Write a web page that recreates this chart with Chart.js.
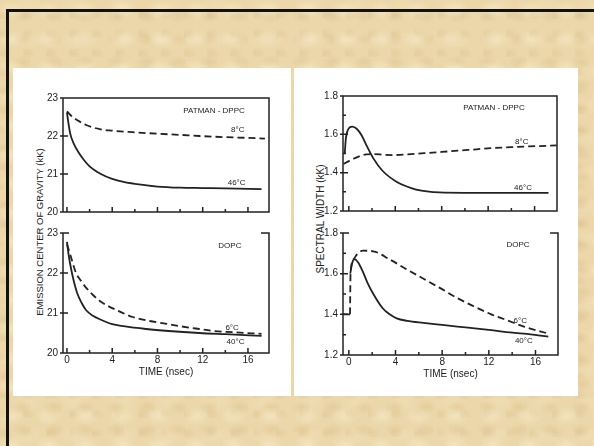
<!DOCTYPE html>
<html>
<head>
<meta charset="utf-8">
<script src="https://cdn.jsdelivr.net/npm/chart.js@4.4.1/dist/chart.umd.min.js"></script>
<style>
html, body { margin: 0; padding: 0; }
body {
  width: 594px; height: 446px; overflow: hidden; position: relative;
  background-color: #ebd7aa;
  background-image:
    radial-gradient(ellipse 14px 9px at 30% 35%, rgba(250,238,208,.5), rgba(250,238,208,0)),
    radial-gradient(ellipse 11px 7px at 75% 70%, rgba(214,180,124,.3), rgba(214,180,124,0)),
    radial-gradient(ellipse 18px 10px at 60% 20%, rgba(245,228,190,.4), rgba(245,228,190,0)),
    radial-gradient(ellipse 9px 6px at 15% 80%, rgba(210,176,120,.25), rgba(210,176,120,0));
  background-size: 37px 29px, 31px 23px, 47px 33px, 23px 19px;
}
.border { position: absolute; left: 6px; top: 9px; width: 600px; height: 450px; border-top: 3px solid #111; border-left: 3px solid #111; }
.panel { position: absolute; background: #fff; }
canvas { position: absolute; }
.ytitle {
  position: absolute; color: #222; white-space: nowrap;
  font-family: "Liberation Sans", Arial, sans-serif;
  transform: translate(-50%, -50%) rotate(-90deg);
}
</style>
</head>
<body>
<div class="border"></div>
<div class="panel" style="left:13px;top:68px;width:278px;height:328px"></div>
<div class="panel" style="left:294px;top:68px;width:284px;height:328px"></div>
<div class="ytitle" style="left:39px;top:232px;font-size:9.5px">EMISSION CENTER OF GRAVITY (kK)</div>
<div class="ytitle" style="left:320px;top:219px;font-size:10px">SPECTRAL WIDTH (kK)</div>
<script>
// PATMAN - DPPC, emission center of gravity (kK)
const dppcCogTime8 = [0, 0.5, 1, 1.7, 2.9, 4, 5.8, 8, 10, 11.7, 14, 16, 17.5];
const dppcCog8 = [22.65, 22.5, 22.4, 22.29, 22.18, 22.14, 22.1, 22.06, 22.03, 22.0, 21.97, 21.95, 21.93];
const dppcCogTime46 = [0, 0.15, 0.3, 0.6, 1, 1.5, 2, 3, 4, 5, 6, 8, 10, 12, 14, 17.2];
const dppcCog46 = [22.62, 22.3, 22.05, 21.8, 21.58, 21.37, 21.2, 21.0, 20.87, 20.79, 20.74, 20.67, 20.64, 20.63, 20.62, 20.6];

// DOPC, emission center of gravity (kK)
const dopcCogTime6 = [0, 0.3, 0.8, 1.2, 1.7, 2.3, 2.9, 3.6, 4.4, 5.8, 7.3, 8.8, 10, 11.7, 13, 14.6, 17.2];
const dopcCog6 = [22.72, 22.45, 22.0, 21.82, 21.63, 21.45, 21.3, 21.18, 21.07, 20.9, 20.8, 20.73, 20.67, 20.6, 20.55, 20.52, 20.48];
const dopcCogTime40 = [0, 0.15, 0.3, 0.6, 0.9, 1.3, 1.7, 2.3, 3, 4, 5, 7, 9, 11.7, 14, 17.2];
const dopcCog40 = [22.78, 22.45, 22.2, 21.8, 21.5, 21.25, 21.07, 20.93, 20.83, 20.72, 20.67, 20.6, 20.55, 20.5, 20.47, 20.43];

// PATMAN - DPPC, spectral width (kK)
const dppcWidTime8 = [-0.45, 0, 0.5, 1, 1.5, 2.2, 3, 4, 5, 6.5, 8, 9.4, 11, 12.2, 14, 15.5, 17.9];
const dppcWid8 = [1.445, 1.46, 1.475, 1.488, 1.495, 1.497, 1.493, 1.492, 1.495, 1.502, 1.508, 1.515, 1.522, 1.528, 1.533, 1.537, 1.542];
const dppcWidTime46 = [-0.35, -0.25, -0.1, 0.3, 0.7, 1.1, 1.5, 2.1, 2.9, 4.1, 5, 5.8, 7.8, 10, 17.2];
const dppcWid46 = [1.5, 1.58, 1.62, 1.64, 1.628, 1.595, 1.545, 1.476, 1.41, 1.353, 1.328, 1.312, 1.297, 1.295, 1.295];

// DOPC, spectral width (kK); null breaks the 40°C line where it jumps
const dopcWidTime6 = [0.1, 0.15, 0.4, 0.7, 1.2, 2.1, 3.5, 5, 6.4, 7.8, 9.3, 10.7, 12.2, 13.6, 15, 17.1];
const dopcWid6 = [1.4, 1.6, 1.67, 1.695, 1.713, 1.71, 1.67, 1.62, 1.575, 1.53, 1.48, 1.44, 1.4, 1.37, 1.34, 1.305];
const dopcWidTime40 = [-0.5, 0.1, 0.1, 0.12, 0.3, 0.5, 0.8, 1.2, 1.6, 2.1, 2.9, 3.5, 4.1, 5, 6.4, 8, 9.3, 11, 12.2, 13.5, 15, 17.1];
const dopcWid40 = [1.4, 1.4, null, 1.6, 1.655, 1.672, 1.655, 1.61, 1.555, 1.5, 1.43, 1.4, 1.38, 1.368, 1.358, 1.348, 1.34, 1.33, 1.322, 1.313, 1.305, 1.29];

const cogTicks = [20, 21, 22, 23];
const widTicks = ['1.2', '1.4', '1.6', '1.8'];
const timeTicks = [0, 4, 8, 12, 16];

const INK = '#222';
const FONT = "'Liberation Sans', Arial, sans-serif";

const framePlugin = {
  id: 'frame',
  afterDraw(chart, args, o) {
    const { ctx, chartArea: a, scales: { x, y } } = chart;
    ctx.save();
    ctx.strokeStyle = INK;
    ctx.lineWidth = 1.5;
    ctx.setLineDash([]);
    ctx.beginPath();
    ctx.moveTo(a.left, a.top);
    ctx.lineTo(a.left, a.bottom);
    ctx.lineTo(a.right, a.bottom);
    ctx.lineTo(a.right, a.top);
    if (o.openTop) {
      ctx.lineTo(a.right - 8, a.top);
      ctx.moveTo(a.left, a.top);
      ctx.lineTo(a.left + 6, a.top);
    } else {
      ctx.lineTo(a.left, a.top);
    }
    // inward tick marks
    x.ticks.forEach(t => {
      const px = x.getPixelForValue(t.value);
      const len = timeTicks.includes(Math.round(t.value)) ? 5 : 3;
      ctx.moveTo(px, a.bottom);
      ctx.lineTo(px, a.bottom - len);
    });
    y.ticks.forEach(t => {
      const py = y.getPixelForValue(t.value);
      const major = t.label !== '';
      ctx.moveTo(a.left - (major ? 3 : 0), py);
      ctx.lineTo(a.left + (major ? 5 : 3), py);
    });
    ctx.stroke();
    // curve labels
    ctx.fillStyle = INK;
    ctx.textAlign = 'center';
    ctx.textBaseline = 'middle';
    (o.notes || []).forEach(n => {
      ctx.font = (n.size || 8) + 'px ' + FONT;
      ctx.fillText(n.text, x.getPixelForValue(n.t), y.getPixelForValue(n.v));
    });
    ctx.restore();
  }
};

function series(time, values, dashed) {
  return {
    data: time.map((t, i) => ({ x: t, y: values[i] })),
    borderColor: INK,
    borderWidth: 1.8,
    borderDash: dashed ? [7, 4] : [],
    pointRadius: 0,
    fill: false,
    cubicInterpolationMode: 'monotone'
  };
}

function makePlot(box, cfg) {
  const timeAxis = !!cfg.timeAxis;
  const YW = 44, PT = 8, PR = 10, XH = timeAxis ? 25 : 6;
  const c = document.createElement('canvas');
  c.width = box.r - box.l + YW + PR;
  c.height = box.b - box.t + PT + XH;
  c.style.left = (box.l - YW) + 'px';
  c.style.top = (box.t - PT) + 'px';
  document.body.appendChild(c);
  new Chart(c, {
    type: 'line',
    data: { datasets: cfg.datasets },
    options: {
      responsive: false,
      animation: false,
      layout: { padding: { top: PT, right: PR, left: 0, bottom: 0 } },
      plugins: {
        legend: { display: false },
        tooltip: { enabled: false },
        frame: { openTop: !!cfg.openTop, notes: cfg.notes }
      },
      scales: {
        x: {
          type: 'linear',
          min: cfg.xMin, max: cfg.xMax,
          grid: { display: false, drawTicks: false },
          border: { display: false },
          ticks: {
            stepSize: 2, includeBounds: false, autoSkip: false, maxRotation: 0,
            display: timeAxis, padding: 1, color: INK,
            font: { family: FONT, size: 10 },
            callback: v => timeTicks.includes(v) ? String(v) : ''
          },
          title: {
            display: timeAxis, text: 'TIME (nsec)', color: INK,
            font: { family: FONT, size: 10 }, padding: { top: 1, bottom: 0 }
          },
          afterFit: s => { s.height = XH; }
        },
        y: {
          min: cfg.yMin, max: cfg.yMax,
          grid: { display: false, drawTicks: false },
          border: { display: false },
          ticks: {
            stepSize: cfg.yStep, includeBounds: false, autoSkip: false,
            padding: 5, color: INK,
            font: { family: FONT, size: 10 },
            callback: cfg.yLabel
          },
          afterFit: s => { s.width = YW; }
        }
      }
    },
    plugins: [framePlugin]
  });
}

const cogLabel = v => cogTicks.includes(Math.round(v * 10) / 10) ? String(Math.round(v)) : '';
const widLabel = v => widTicks.includes(v.toFixed(1)) && Math.round(v * 10) % 2 === 0 ? v.toFixed(1) : '';

makePlot({ l: 63, t: 95, r: 269, b: 217 }, {
  xMin: -0.35, xMax: 17.86, yMin: 20, yMax: 23, yStep: 1, yLabel: cogLabel,
  datasets: [series(dppcCogTime8, dppcCog8, true), series(dppcCogTime46, dppcCog46, false)],
  notes: [
    { t: 13.0, v: 22.66, text: 'PATMAN - DPPC' },
    { t: 15.1, v: 22.17, text: '8°C' },
    { t: 15.0, v: 20.76, text: '46°C' }
  ]
});

makePlot({ l: 63, t: 230, r: 269, b: 353 }, {
  xMin: -0.35, xMax: 17.86, yMin: 20, yMax: 23, yStep: 1, yLabel: cogLabel,
  timeAxis: true, openTop: true,
  datasets: [series(dopcCogTime6, dopcCog6, true), series(dopcCogTime40, dopcCog40, false)],
  notes: [
    { t: 14.4, v: 22.68, text: 'DOPC' },
    { t: 14.6, v: 20.63, text: '6°C' },
    { t: 14.9, v: 20.27, text: '40°C' }
  ]
});

makePlot({ l: 343, t: 93, r: 557, b: 216 }, {
  xMin: -0.5, xMax: 17.93, yMin: 1.2, yMax: 1.8, yStep: 0.1, yLabel: widLabel,
  datasets: [series(dppcWidTime8, dppcWid8, true), series(dppcWidTime46, dppcWid46, false)],
  notes: [
    { t: 12.5, v: 1.737, text: 'PATMAN - DPPC' },
    { t: 14.9, v: 1.56, text: '8°C' },
    { t: 15.0, v: 1.322, text: '46°C' }
  ]
});

makePlot({ l: 343, t: 230, r: 558, b: 355 }, {
  xMin: -0.5, xMax: 17.93, yMin: 1.2, yMax: 1.8, yStep: 0.1, yLabel: widLabel,
  timeAxis: true, openTop: true,
  datasets: [series(dopcWidTime6, dopcWid6, true), series(dopcWidTime40, dopcWid40, false)],
  notes: [
    { t: 14.5, v: 1.74, text: 'DOPC' },
    { t: 14.7, v: 1.367, text: '6°C' },
    { t: 15.0, v: 1.27, text: '40°C' }
  ]
});
</script>
</body>
</html>
